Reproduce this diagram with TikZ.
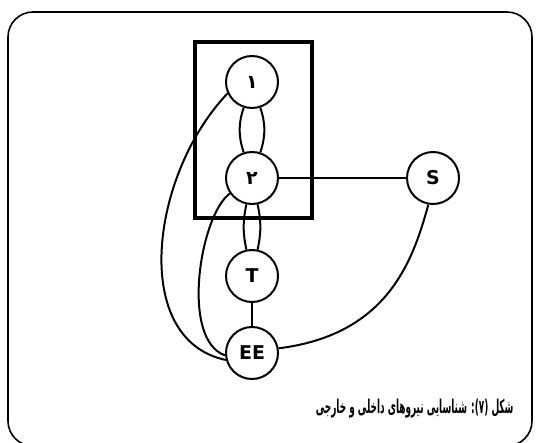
\documentclass[tikz,border=0pt]{standalone}
\usepackage{fontspec}
\setmainfont{DejaVu Sans}
\newfontfamily\farsifont[Script=Arabic]{DejaVu Sans}
\newfontfamily\farsicap[Script=Arabic, FakeStretch=0.47]{DejaVu Sans}
\TeXXeTstate=1
\usetikzlibrary{positioning}
\tikzset{
  fnode/.style={circle, draw, line width=2pt, minimum size=52pt, inner sep=1pt, font=\fontsize{19}{19}\selectfont\bfseries},
  link/.style={line width=2pt},
}

\begin{document}
\begin{tikzpicture}[x=1pt, y=-1pt]
  \useasboundingbox (0,0) rectangle (537,443);
  % frame
  \draw[line width=1.6pt, rounded corners=25pt] (8,12) rectangle (532,446);
  % system box
  \draw[line width=3.6pt] (195,42) rectangle (312,218);
  % nodes
  \node[fnode] (n1) at (252,82) {\farsifont ۱};
  \node[fnode] (n2) at (252,178) {\farsifont ۲};
  \node[fnode] (T)  at (252,276) {T};
  \node[fnode] (S)  at (433,178) {S};
  \node[fnode] (EE) at (252,353) {EE};
  % links
  \draw[link] (n1) to[bend left=18] (n2);
  \draw[link] (n1) to[bend right=18] (n2);
  \draw[link] (n2) to[bend left=12] (T);
  \draw[link] (n2) to[bend right=12] (T);
  \draw[link] (T) -- (EE);
  \draw[link] (n2) -- (S);
  \draw[link] (n1.205) .. controls (150,175) and (130,340) .. (EE.195);
  \draw[link] (n2.215) .. controls (200,215) and (180,340) .. (EE.185);
  \draw[link] (S.260) .. controls (412,265) and (385,335) .. (EE.10);
  % caption
  \node[anchor=east, font=\fontsize{19}{19}\selectfont] (cap) at (517,409)
    {\farsicap\bfseries\beginR شکل (۷): شناسایی نیروهای داخلی و خارجی\endR};
\end{tikzpicture}
\end{document}
